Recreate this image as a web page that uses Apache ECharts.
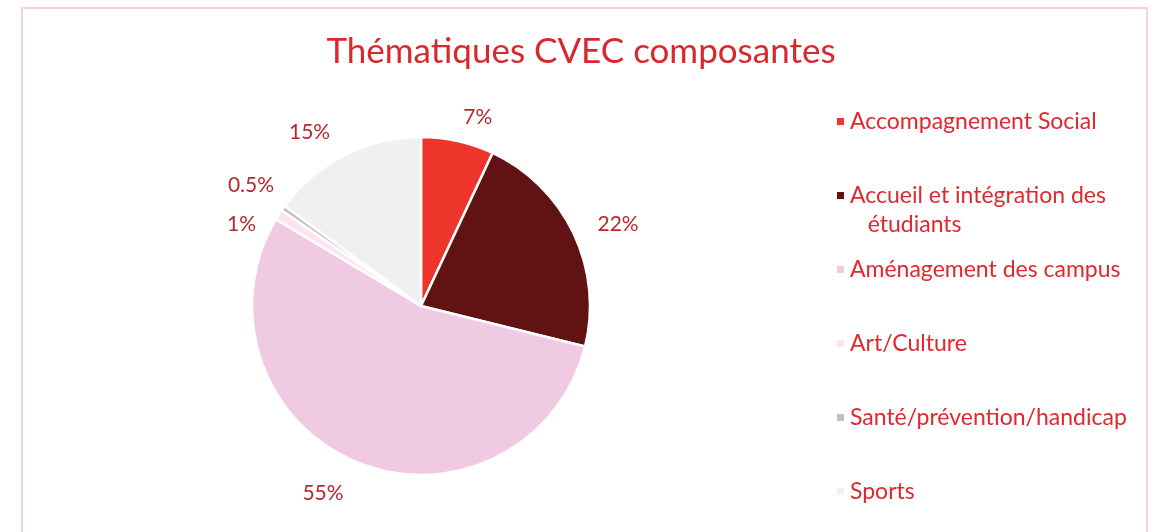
<!DOCTYPE html>
<html>
<head>
<meta charset="utf-8">
<title>Thématiques CVEC composantes</title>
<script src="https://cdn.jsdelivr.net/npm/echarts@6/dist/echarts.min.js"></script>
<style>
  html, body { margin: 0; padding: 0; background: #fff; }
  #chart { width: 1162px; height: 532px; }
</style>
</head>
<body>
<div id="chart"></div>
<script>
// data
const categories = [
    'Accompagnement Social',
    'Accueil et intégration des étudiants',
    'Aménagement des campus',
    'Art/Culture',
    'Santé/prévention/handicap',
    'Sports'
]
const shares = [7, 22, 55, 1, 0.5, 15]
const colors = ['#EE352C', '#611314', '#F0CAE3', '#FDE4F2', '#BFBFBF', '#F0F0F0']

const font = 'Lato, "Open Sans", sans-serif'
const nb = '\u00a0'
const blank = '{t|' + nb + '}'

const chart = echarts.init(document.getElementById('chart'))

const legendText = {
    color: '#E0282D',
    fontFamily: font,
    fontSize: 23,
    lineHeight: 29
}

chart.setOption({
    animation: false,
    color: colors,
    title: {
        text: 'Thématiques CVEC composantes',
        left: 'center',
        top: 29,
        textStyle: {
            color: '#D9272E',
            fontFamily: font,
            fontWeight: 'normal',
            fontSize: 35
        }
    },
    graphic: [{
        type: 'rect',
        silent: true,
        shape: { x: 22, y: 8, width: 1125, height: 560 },
        style: { fill: 'none', stroke: '#F6D2D2', lineWidth: 2 }
    }],
    legend: {
        orient: 'vertical',
        left: 835,
        top: 78,
        height: 520,
        padding: 0,
        itemWidth: 9,
        itemHeight: 9,
        itemGap: -13,
        icon: 'rect',
        selectedMode: false,
        // three-line blocks so the marker sits level with the first real line
        formatter: function (name) {
            if (name === categories[1]) {
                // wrapped line drifts left, a few nbsp line it up again
                return blank + '\n{t|Accueil et intégration des}\n{t|' + nb + nb + nb + 'étudiants}'
            }
            return blank + '\n{t|' + name + '}\n' + blank
        },
        textStyle: Object.assign({}, legendText, {
            rich: { t: legendText }
        }),
        data: categories
    },
    series: [{
        type: 'pie',
        center: [421, 306],
        radius: 169,
        startAngle: 90,
        clockwise: true,
        avoidLabelOverlap: false,
        itemStyle: {
            borderColor: '#fff',
            borderWidth: 2.5
        },
        label: {
            show: true,
            position: 'outside',
            formatter: '{c}%',
            color: '#B5292E',
            fontFamily: font,
            fontSize: 21
        },
        labelLine: {
            show: false,
            length: 21,
            length2: 0
        },
        // nudge labels to where the reference has them
        labelLayout: function (params) {
            switch (params.dataIndex) {
                case 0: return { dx: -4, dy: -3 }
                case 2: return { dy: 12 }
                case 3: return { dy: 21 }
                case 4: return { dx: 13, dy: -11 }
                case 5: return { dy: -4 }
            }
            return {}
        },
        data: categories.map(function (name, i) {
            return { name: name, value: shares[i] }
        })
    }]
})
</script>
</body>
</html>
